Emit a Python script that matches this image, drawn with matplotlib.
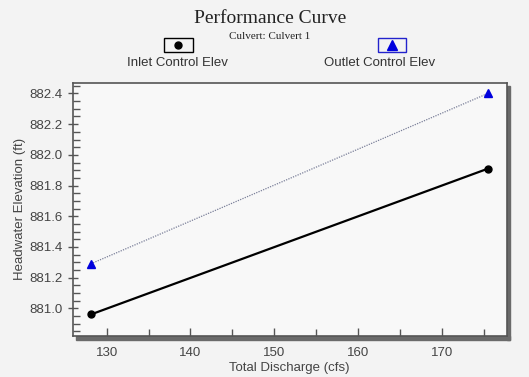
import matplotlib
matplotlib.use('AGG')
import matplotlib.pyplot as plt
from matplotlib.patches import Rectangle
from matplotlib.lines import Line2D
from matplotlib.ticker import MultipleLocator

# data
discharge = [128.1, 175.5]
inlet_elev = [880.96, 881.91]
outlet_elev = [881.29, 882.40]

series_names = ['Inlet Control Elev', 'Outlet Control Elev']

plt.rcParams['font.family'] = ['Liberation Sans', 'DejaVu Sans']

fig = plt.figure(figsize=(5.29, 3.77), dpi=100, facecolor='#f3f3f3')
ax = fig.add_axes([0.1374, 0.1088, 0.8206, 0.6718])
ax.set_facecolor('#f8f8f8')

# drop shadow at right and bottom of the plot box
fig.add_artist(Rectangle((0.9585, 0.099), 0.0058, 0.672, transform=fig.transFigure,
                         color='#6a6a6a', zorder=0))
fig.add_artist(Rectangle((0.1430, 0.099), 0.8213, 0.0085, transform=fig.transFigure,
                         color='#6a6a6a', zorder=0))

ax.plot(discharge, outlet_elev, color='#7a7f99', lw=0.9, ls=(0, (1, 1)),
        marker='^', ms=6, mfc='#0000dd', mec='#0000dd', zorder=3)
ax.plot(discharge, inlet_elev, color='black', lw=1.6,
        marker='o', ms=5, mfc='black', mec='black', zorder=4)

ax.set_xlim(125.94, 177.76)
ax.set_ylim(880.82, 882.47)
ax.xaxis.set_major_locator(MultipleLocator(10))
ax.xaxis.set_minor_locator(MultipleLocator(5))
ax.yaxis.set_major_locator(MultipleLocator(0.2))
ax.yaxis.set_minor_locator(MultipleLocator(0.05))
ax.yaxis.set_major_formatter(plt.FormatStrFormatter('%.1f'))
ax.tick_params(which='major', direction='inout', length=7, width=1, colors='#555555',
               labelsize=9.5, labelcolor='#444444')
ax.tick_params(which='minor', direction='in', length=5, width=1, colors='#555555')
ax.tick_params(axis='x', which='major', direction='in', length=6, pad=8)
for s in ax.spines.values():
    s.set_color('#555555')
    s.set_linewidth(1.2)

ax.set_xlabel('Total Discharge (cfs)', fontsize=9.5, color='#444444', labelpad=2)
ax.set_ylabel('Headwater Elevation (ft)', fontsize=9.5, color='#444444', labelpad=3)

fig.text(0.51, 0.952, 'Performance Curve', family='Liberation Serif', fontsize=14,
         ha='center', va='center', color='#222222')
fig.text(0.51, 0.904, 'Culvert: Culvert 1', family='Liberation Serif', fontsize=8,
         ha='center', va='center', color='#222222')

# legend: marker box above the label
leg_items = [
    (0.3370, 0.335, 'o', 'black', 'black', 5),
    (0.7410, 0.718, '^', '#0000dd', '#2222cc', 7),
]
for (bx, tx, mk, mc, ec, ms), name in zip(leg_items, series_names):
    fig.add_artist(Rectangle((bx - 0.027, 0.861), 0.054, 0.037, transform=fig.transFigure,
                             fill=False, edgecolor=ec, lw=1))
    fig.add_artist(Line2D([bx], [0.8795], transform=fig.transFigure, marker=mk,
                          ms=ms, color=mc, ls='none'))
    fig.text(tx, 0.832, name, fontsize=9.5, ha='center', va='center', color='#333333')

fig.savefig('out.png', dpi=100, facecolor=fig.get_facecolor())
